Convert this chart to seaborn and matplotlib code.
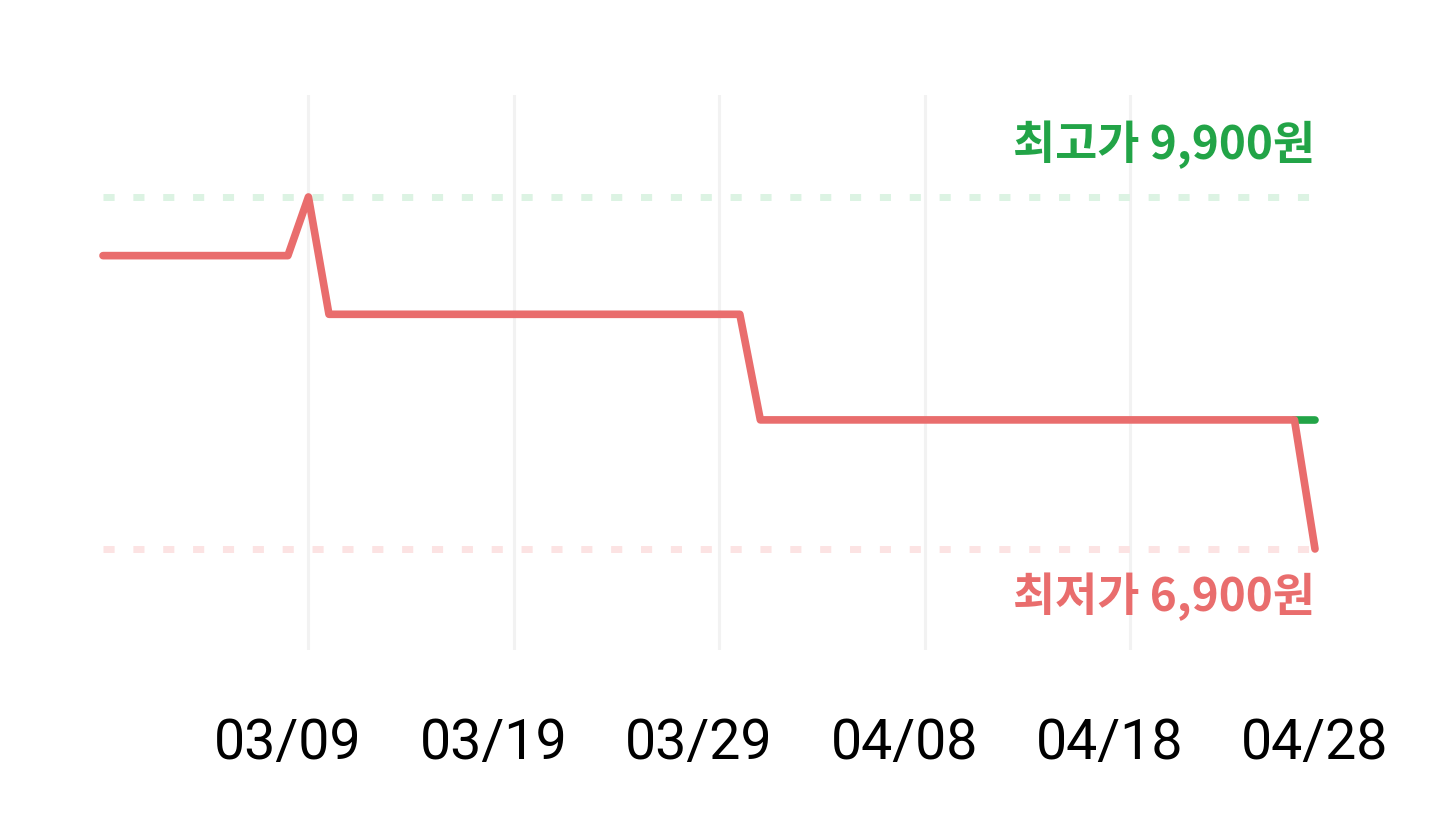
import numpy as np
import pandas as pd
import seaborn as sns
import matplotlib.pyplot as plt
import matplotlib.dates as mdates

# price history (won), one value per day
dates = pd.date_range("2025-02-28", "2025-04-28", freq="D")
prices = ([9400] * 10      # 02/28 - 03/09
          + [9900]         # 03/10
          + [8900] * 21    # 03/11 - 03/31
          + [8000] * 27    # 04/01 - 04/27
          + [6900])        # 04/28
other_dates = pd.to_datetime(["2025-04-27", "2025-04-28"])
other_prices = [8000, 8000]

tick_dates = pd.to_datetime(["2025-03-09", "2025-03-19", "2025-03-29",
                             "2025-04-08", "2025-04-18", "2025-04-28"])
tick_labels = ["03/09", "03/19", "03/29", "04/08", "04/18", "04/28"]
max_price, min_price = 9900, 6900
max_label = "최고가 9,900원"
min_label = "최저가 6,900원"

red = "#E96D6D"
green = "#22A447"

sns.set_theme(style="white")
plt.rcParams['font.family'] = ['Noto Sans CJK KR', 'DejaVu Sans']

df = pd.DataFrame({"date": dates, "price": prices})
df2 = pd.DataFrame({"date": other_dates, "price": other_prices})

fig = plt.figure(figsize=(14.4, 8.35), dpi=100)
ax = fig.add_axes([103 / 1440, 185 / 835, (1315 - 103) / 1440, (650 - 95) / 835])

# light gridlines, one day after each label
for d in tick_dates[:-1]:
    ax.axvline(d + pd.Timedelta(days=1), color="#F2F2F2", lw=2.2, zorder=0)

# max / min reference lines
ax.axhline(max_price, color="#DCF3E3", lw=5, dashes=(1.6, 2.7), dash_capstyle="butt", zorder=1)
ax.axhline(min_price, color="#FCE3E3", lw=5, dashes=(1.6, 2.7), dash_capstyle="butt", zorder=1)

sns.lineplot(data=df2, x="date", y="price", ax=ax, color=green, lw=5.5,
             solid_capstyle="round", clip_on=False, zorder=2)
sns.lineplot(data=df, x="date", y="price", ax=ax, color=red, lw=5.5,
             solid_capstyle="round", solid_joinstyle="round", clip_on=False, zorder=3)

ax.set_xlim(dates[0], dates[-1])
ax.set_ylim(6039, 10769)
ax.set_xticks(tick_dates)
ax.set_xticklabels(tick_labels, fontsize=40, family=["Roboto", "DejaVu Sans"], color="black")
ax.tick_params(axis="x", length=0, pad=48)
ax.set_yticks([])
ax.set_xlabel("")
ax.set_ylabel("")
for s in ax.spines.values():
    s.set_visible(False)

ax.annotate(max_label, xy=(dates[-1], max_price), xytext=(0, 52), textcoords="offset pixels",
            ha="right", va="center", fontsize=33, fontweight="bold", color=green)
ax.annotate(min_label, xy=(dates[-1], min_price), xytext=(0, -48), textcoords="offset pixels",
            ha="right", va="center", fontsize=33, fontweight="bold", color=red)

fig.savefig("out.png", dpi=100)
